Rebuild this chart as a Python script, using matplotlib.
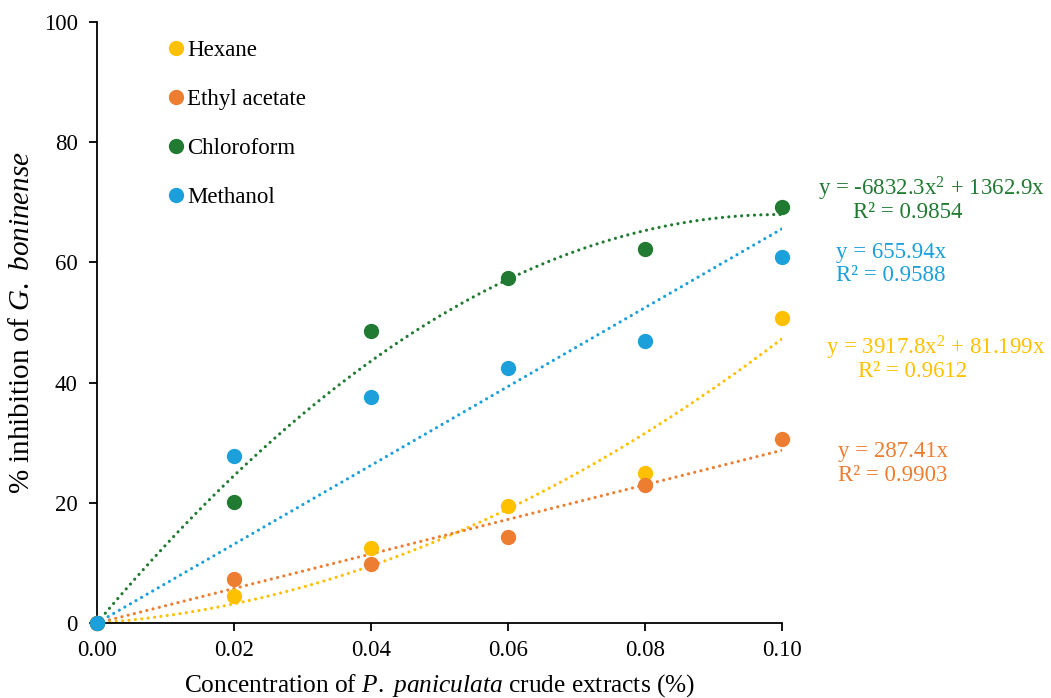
import numpy as np
import matplotlib
matplotlib.use("Agg")
import matplotlib.pyplot as plt

plt.rcParams['font.family'] = ['Liberation Serif', 'DejaVu Serif']
plt.rcParams['mathtext.fontset'] = 'custom'
plt.rcParams['mathtext.rm'] = 'Liberation Serif'
plt.rcParams['mathtext.it'] = 'Liberation Serif:italic'

conc = [0.00, 0.02, 0.04, 0.06, 0.08, 0.10]
hexane = [0, 4.5, 12.5, 19.5, 25.0, 50.7]
ethyl = [0, 7.3, 9.8, 14.3, 23.0, 30.6]
chloro = [0, 20.1, 48.6, 57.4, 62.2, 69.2]
methanol = [0, 27.8, 37.6, 42.4, 46.9, 60.9]

# trendline coefficients (a*x^2 + b*x)
hex_fit = (3917.8, 81.199)
eth_fit = (0.0, 287.41)
chl_fit = (-6832.3, 1362.9)
met_fit = (0.0, 655.94)

c_hex = '#FFC000'
c_eth = '#ED7D31'
c_chl = '#217A32'
c_met = '#1CA0DC'

fig = plt.figure(figsize=(10.51, 6.98), dpi=100)
ax = fig.add_axes([0.0923, 0.1074, 0.6518, 0.8611])

xs = np.linspace(0, 0.10, 400)
for (a, b), c in [(hex_fit, c_hex), (eth_fit, c_eth), (chl_fit, c_chl), (met_fit, c_met)]:
    ax.plot(xs, a * xs**2 + b * xs, linestyle=(0, (0.01, 2.0)), color=c, lw=2.3,
            dash_capstyle='round', zorder=2)

for y, c, lab in [(hexane, c_hex, 'Hexane'), (ethyl, c_eth, 'Ethyl acetate'),
                  (chloro, c_chl, 'Chloroform'), (methanol, c_met, 'Methanol')]:
    ax.plot(conc, y, 'o', color=c, ms=10, label=lab, zorder=3, clip_on=False)

ax.set_xlim(0, 0.10)
ax.set_ylim(0, 100)
ax.set_xticks(np.arange(0, 0.101, 0.02))
ax.set_xticklabels([f'{v:.2f}' for v in np.arange(0, 0.101, 0.02)])
ax.set_yticks(range(0, 101, 20))
ax.tick_params(labelsize=16.5, direction='out', length=6, width=1.3)
ax.tick_params(axis='x', pad=6)
ax.tick_params(axis='y', pad=8)
for s in ['top', 'right']:
    ax.spines[s].set_visible(False)
for s in ['left', 'bottom']:
    ax.spines[s].set_linewidth(1.3)

ax.set_xlabel(r'Concentration of $\it{P.}$ $\it{paniculata}$ crude extracts (%)', fontsize=18.3, labelpad=8)
ax.set_ylabel(r'% inhibition of $\it{G.}$ $\it{boninense}$', fontsize=21, labelpad=6)

leg = ax.legend(loc='upper left', bbox_to_anchor=(0.085, 0.985), frameon=False, fontsize=16.5,
                handletextpad=0.0, labelspacing=1.21, handlelength=1.0, borderaxespad=0)

fs = 16.5
ax.text(0.1384, 72.2, r'y = -6832.3x$^2$ + 1362.9x', color=c_chl, fontsize=fs, ha='right', va='center', clip_on=False)
ax.text(0.1184, 68.3, 'R² = 0.9854', color=c_chl, fontsize=fs, ha='center', va='center', clip_on=False)
ax.text(0.1079, 61.7, 'y = 655.94x', color=c_met, fontsize=fs, ha='left', va='center', clip_on=False)
ax.text(0.1079, 57.8, 'R² = 0.9588', color=c_met, fontsize=fs, ha='left', va='center', clip_on=False)
ax.text(0.1384, 45.8, r'y = 3917.8x$^2$ + 81.199x', color=c_hex, fontsize=fs, ha='right', va='center', clip_on=False)
ax.text(0.1191, 41.8, 'R² = 0.9612', color=c_hex, fontsize=fs, ha='center', va='center', clip_on=False)
ax.text(0.1082, 28.6, 'y = 287.41x', color=c_eth, fontsize=fs, ha='left', va='center', clip_on=False)
ax.text(0.1082, 24.6, 'R² = 0.9903', color=c_eth, fontsize=fs, ha='left', va='center', clip_on=False)

fig.savefig('out.png', dpi=100)
